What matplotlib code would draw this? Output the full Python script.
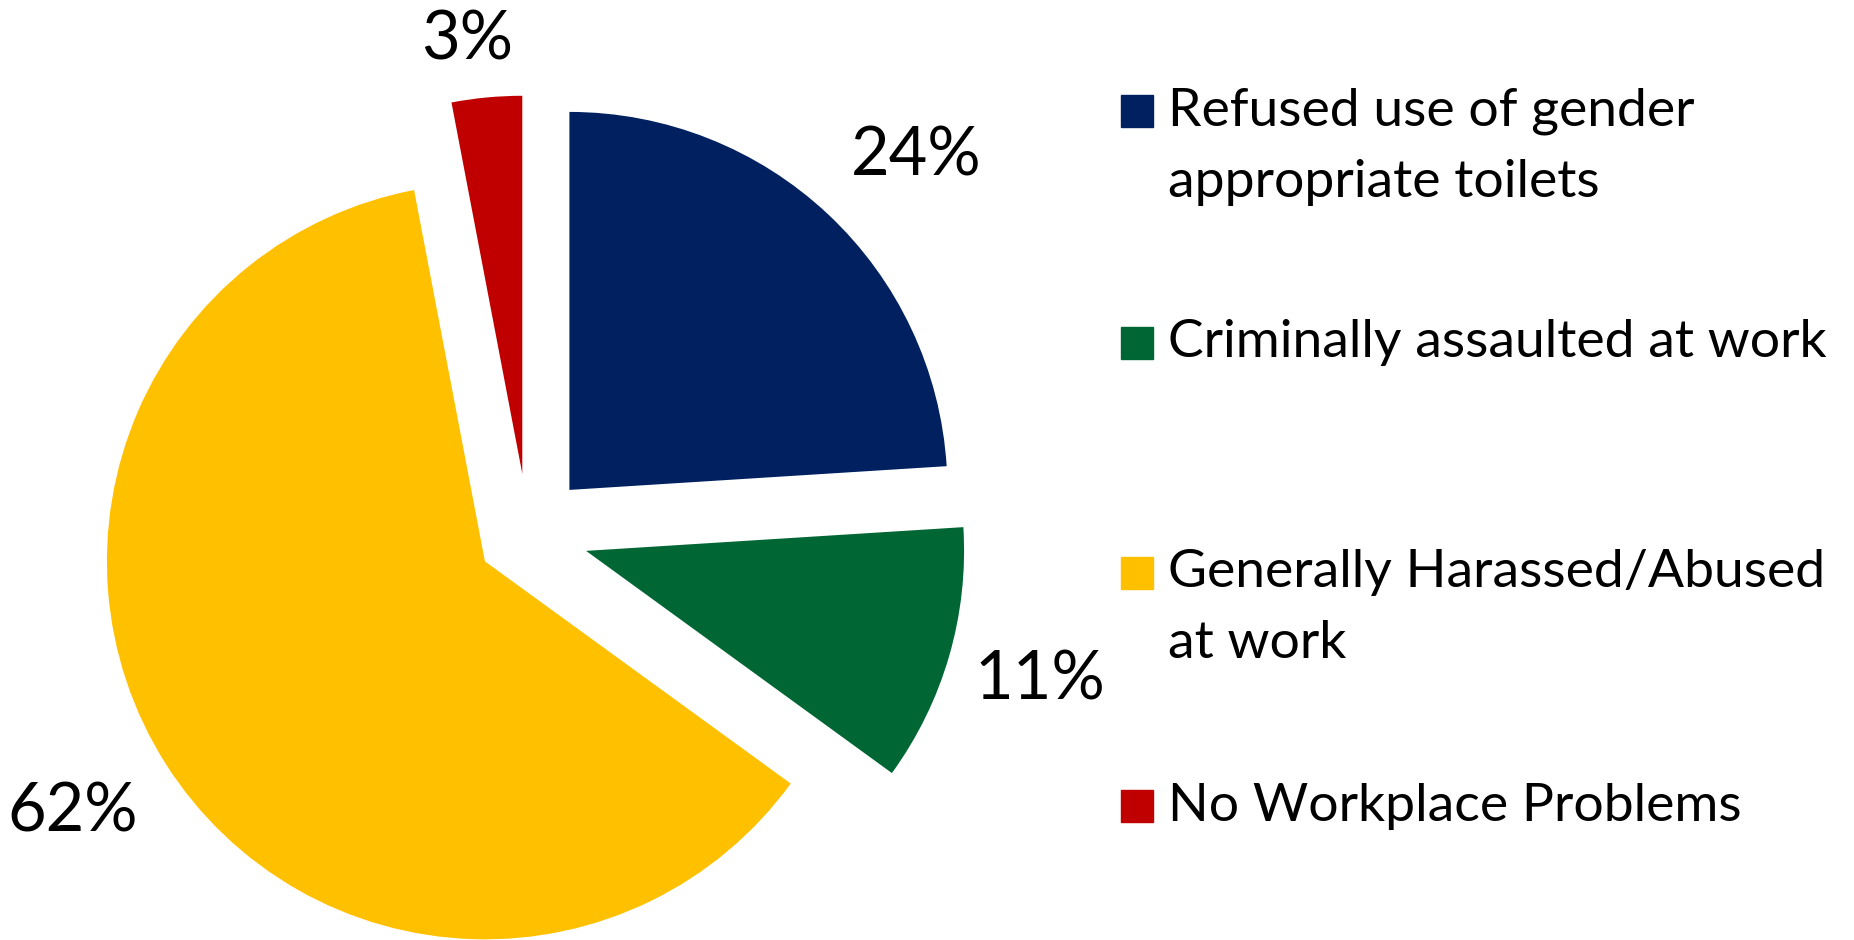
import matplotlib as mpl
import matplotlib.pyplot as plt
from matplotlib.patches import Rectangle

# -------------------------------------
# Data
# -------------------------------------

CATEGORIES = [
    "Refused use of gender\nappropriate toilets",
    "Criminally assaulted at work",
    "Generally Harassed/Abused\nat work",
    "No Workplace Problems",
]
SHARES = [24, 11, 62, 3]
COLORS = ["#002060", "#006633", "#FFC000", "#C00000"]
EXPLODE = [0.16, 0.16, 0.135, 0.16]

# -------------------------------------
# Plotting
# -------------------------------------

mpl.rcParams["font.family"] = ["Lato", "DejaVu Sans"]

W, H = 1854, 940
RADIUS = 378
fig = plt.figure(figsize=(W / 100, H / 100), dpi=100)
ax = fig.add_axes([0, 0, 1, 1])

# matplotlib's explode offset is in data units, so scale it by the radius
wedges, _ = ax.pie(
    SHARES,
    colors=COLORS,
    explode=[e * RADIUS for e in EXPLODE],
    startangle=90,
    counterclock=False,
    center=(528, H - 534),
    radius=RADIUS,
    frame=True,
)
ax.set_xlim(0, W)
ax.set_ylim(0, H)
ax.set_aspect("equal")
ax.axis("off")

# percentage labels
label_pos = [(916, H - 157), (1040, H - 680), (73, H - 812), (467, H - 41)]
for share, (x, y) in zip(SHARES, label_pos):
    ax.text(x, y, f"{share}%", fontsize=48, ha="center", va="center")

# legend drawn by hand so the key lines up with the first text line
square = 32
square_y = [829, 597, 367, 134]
for label, color, y in zip(CATEGORIES, COLORS, square_y):
    ax.add_patch(Rectangle((1121, y - square / 2), square, square, color=color))
    for i, line in enumerate(label.split("\n")):
        ax.text(1168, y - i * 71, line, fontsize=38.5, ha="left", va="center")

fig.savefig("out.png", dpi=100)
